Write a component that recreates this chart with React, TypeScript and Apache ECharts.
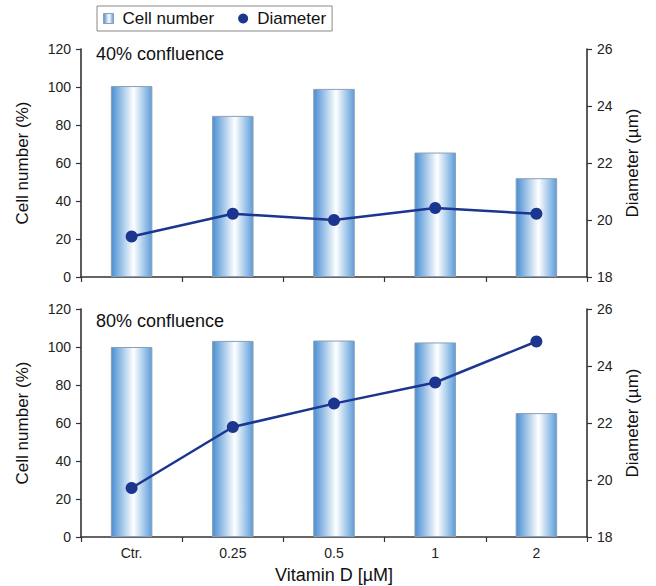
import React, { useEffect, useRef } from "react";
import * as echarts from "echarts";

const categories = ["Ctr.", "0.25", "0.5", "1", "2"];
const cellNumber40 = [100.5, 84.8, 99, 65.5, 52];
const diameter40 = [19.42, 20.22, 20.0, 20.42, 20.22];
const cellNumber80 = [100, 103.2, 103.4, 102.4, 65.2];
const diameter80 = [19.72, 21.86, 22.68, 23.42, 24.86];
const leftTicks = { min: 0, max: 120, interval: 20 };
const rightTicks = { min: 18, max: 26, interval: 2 };

const FONT = "Liberation Sans, Arial, sans-serif";
const LINE_COLOR = "#1c358f";
const AXIS_COLOR = "#333";

const barGradient = () =>
  new echarts.graphic.LinearGradient(0, 0, 1, 0, [
    { offset: 0, color: "#4a8fd3" },
    { offset: 0.55, color: "#ffffff" },
    { offset: 1, color: "#5d9dda" },
  ]);

export default function App() {
  const ref = useRef<HTMLDivElement>(null);
  useEffect(() => {
    document.body.style.margin = "0";
    if (!ref.current) return;
    const chart = echarts.init(ref.current, undefined, { renderer: "svg" });
    const axisLine = { show: true, lineStyle: { color: AXIS_COLOR, width: 1.6 } };
    const axisTick = { show: true, length: 5, lineStyle: { color: AXIS_COLOR, width: 1.2 } };
    const axisLabel = { color: "#222", fontSize: 14, fontFamily: FONT };
    const nameStyle = { color: "#111", fontSize: 17, fontFamily: FONT };
    const grids = [
      { left: 81, top: 49, width: 506, height: 228 },
      { left: 81, top: 309, width: 506, height: 228 },
    ];
    const xAxes = [0, 1].map((i) => ({
      type: "category",
      gridIndex: i,
      data: categories,
      boundaryGap: true,
      axisLine,
      axisTick,
      axisLabel: { ...axisLabel, show: i === 1, margin: 9 },
      name: i === 1 ? "Vitamin D [µM]" : "",
      nameLocation: "middle",
      nameGap: 29,
      nameTextStyle: { ...nameStyle, fontSize: 18 },
    }));
    const yAxes: any[] = [];
    [0, 1].forEach((i) => {
      yAxes.push({
        type: "value",
        gridIndex: i,
        position: "left",
        ...leftTicks,
        axisLine,
        axisTick,
        splitLine: { show: false },
        axisLabel: { ...axisLabel, margin: 10 },
        name: "Cell number (%)",
        nameLocation: "middle",
        nameGap: 50,
        nameTextStyle: nameStyle,
      });
      yAxes.push({
        type: "value",
        gridIndex: i,
        position: "right",
        ...rightTicks,
        axisLine,
        axisTick,
        splitLine: { show: false },
        axisLabel: { ...axisLabel, margin: 10 },
        name: "Diameter (µm)",
        nameLocation: "middle",
        nameGap: 37,
        nameRotate: 90,
        nameTextStyle: nameStyle,
      });
    });
    const barSeries = (data: number[], i: number) => ({
      name: "Cell number",
      type: "bar",
      xAxisIndex: i,
      yAxisIndex: i * 2,
      data,
      barWidth: "41%",
      itemStyle: { color: barGradient(), borderColor: "#8a9fb5", borderWidth: 1 },
    });
    const lineSeries = (data: number[], i: number) => ({
      name: "Diameter",
      type: "line",
      xAxisIndex: i,
      yAxisIndex: i * 2 + 1,
      data,
      symbol: "circle",
      symbolSize: 12,
      lineStyle: { color: LINE_COLOR, width: 2.5 },
      itemStyle: { color: LINE_COLOR },
    });
    chart.setOption({
      animation: false,
      textStyle: { fontFamily: FONT },
      legend: {
        left: 97,
        top: 6,
        itemGap: 24,
        itemWidth: 10,
        itemHeight: 10,
        padding: [4, 6, 4, 6],
        borderColor: "#888",
        borderWidth: 1,
        textStyle: { fontSize: 17, color: "#111", fontFamily: FONT, padding: [0, 0, 0, 4] },
        data: [
          { name: "Cell number", icon: "rect", itemStyle: { color: barGradient(), borderColor: "#8a9fb5", borderWidth: 1 } },
          { name: "Diameter", icon: "circle", itemStyle: { color: LINE_COLOR } },
        ],
      },
      grid: grids,
      xAxis: xAxes,
      yAxis: yAxes,
      series: [
        barSeries(cellNumber40, 0),
        lineSeries(diameter40, 0),
        barSeries(cellNumber80, 1),
        lineSeries(diameter80, 1),
      ],
      graphic: [
        { type: "text", left: 96, top: 45, style: { text: "40% confluence", fontSize: 18, fill: "#111", fontFamily: FONT } },
        { type: "text", left: 96, top: 312, style: { text: "80% confluence", fontSize: 18, fill: "#111", fontFamily: FONT } },
      ],
    });
    return () => chart.dispose();
  }, []);
  return <div ref={ref} style={{ width: 656, height: 586 }} />;
}
